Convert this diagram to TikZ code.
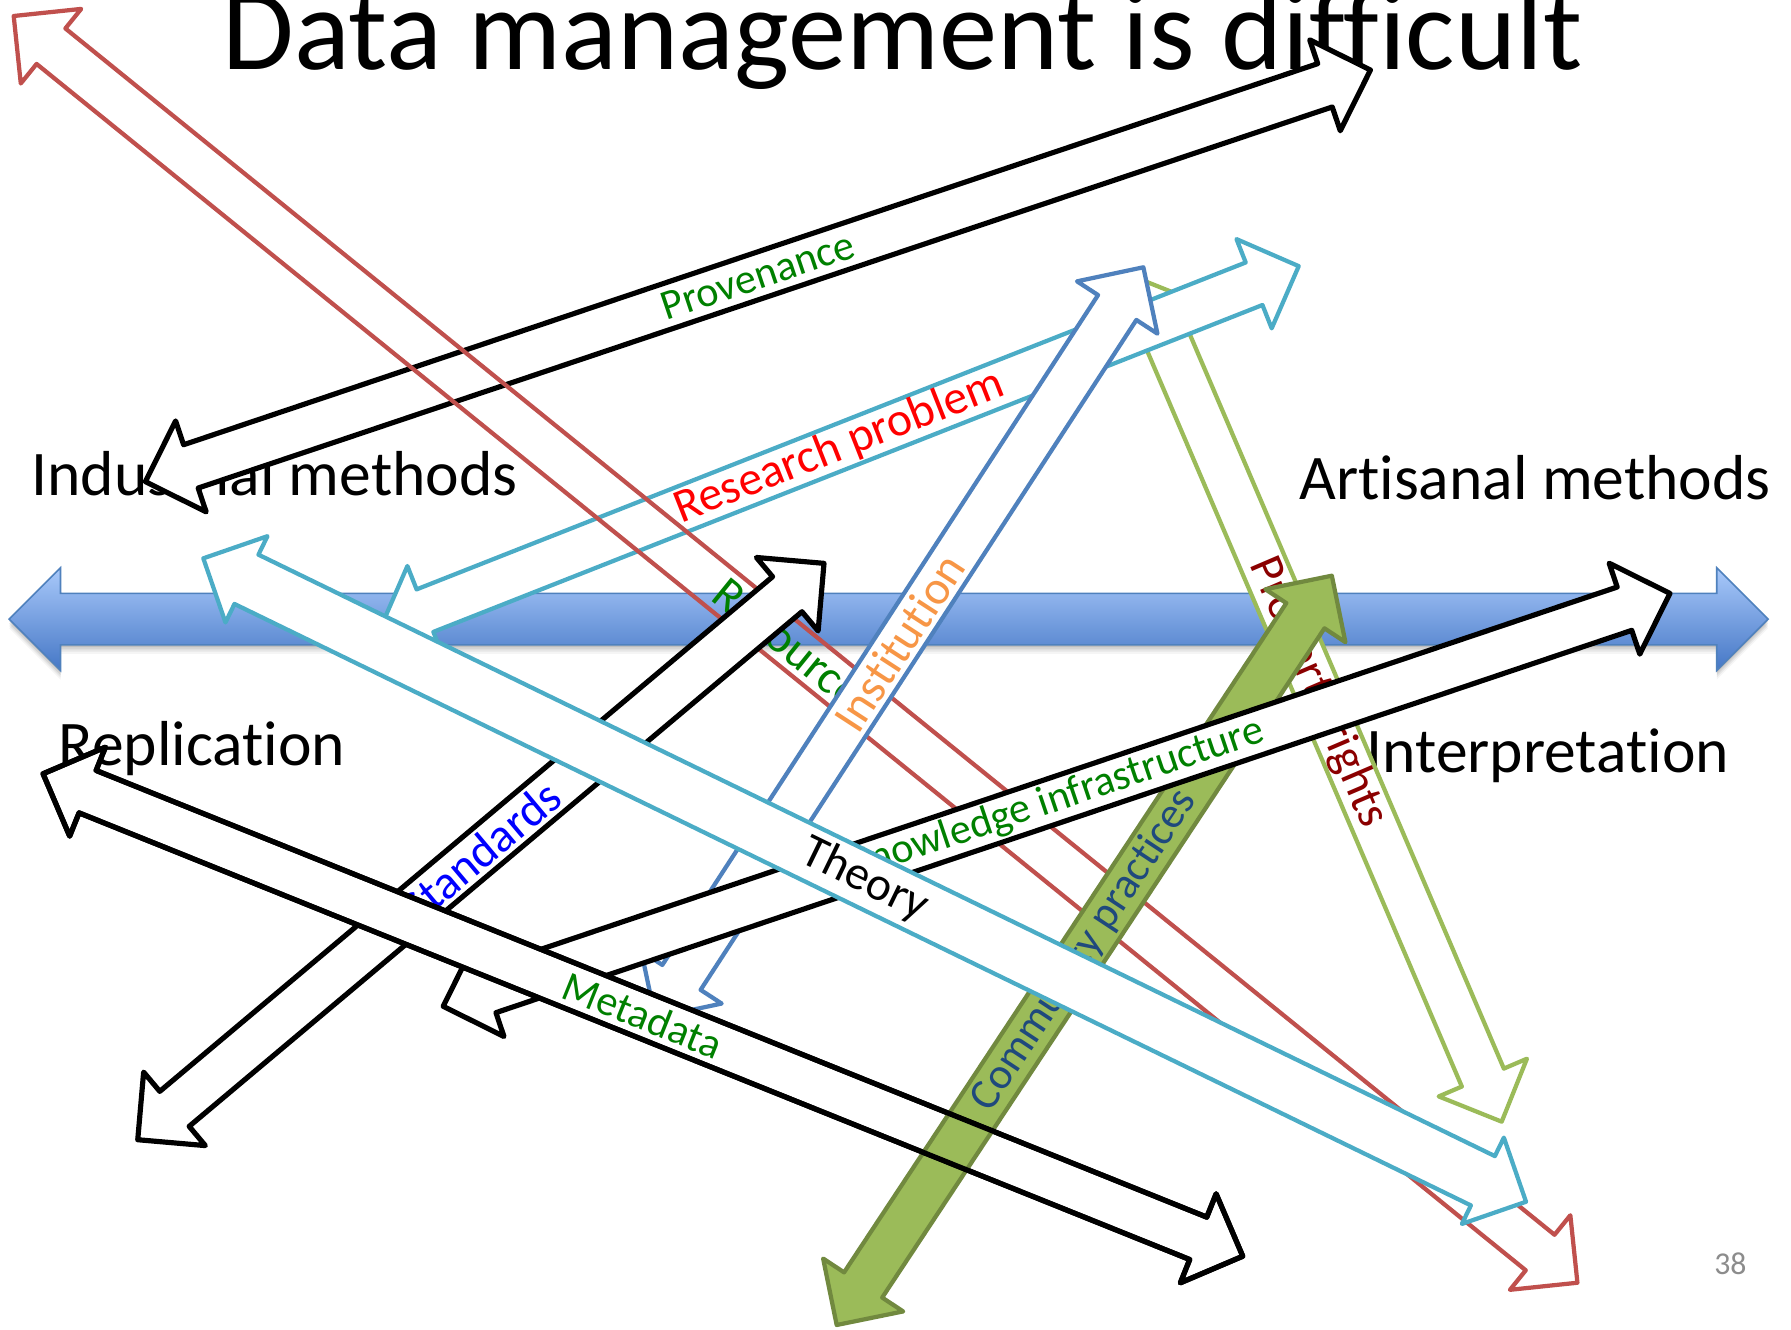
\documentclass[tikz,border=0pt]{standalone}
\usepackage{fontspec}
\setmainfont{Carlito}[Ligatures={NoCommon,NoContextual}, Contextuals=NoAlternate]
\usetikzlibrary{calc}

\definecolor{arrowred}{HTML}{C0504D}
\definecolor{arrowcyan}{HTML}{4BACC6}
\definecolor{arrowblue}{HTML}{4F81BD}
\definecolor{arrowolive}{HTML}{9BBB59}
\definecolor{arrowolivedark}{HTML}{71893F}
\definecolor{bandtop}{HTML}{A9C9FA}
\definecolor{bandbottom}{HTML}{4577C6}
\definecolor{txtgreen}{HTML}{008000}
\definecolor{txtred}{HTML}{FF0000}
\definecolor{txtmaroon}{HTML}{8B0000}
\definecolor{txtorange}{HTML}{F79646}
\definecolor{txtnavy}{HTML}{1F497D}
\definecolor{txtblue}{HTML}{0000FF}
\definecolor{pagenum}{HTML}{8C8C8C}

% double-headed block arrow between two tips
% #1 style, #2 #3 tips, #4 head length, #5 head half-width, #6 shaft half-width
\newcommand{\blockarrow}[6]{%
  \path[#1] (#2)
    -- ($(#2)!#4!(#3)!#5!90:(#3)$)
    -- ($(#2)!#4!(#3)!#6!90:(#3)$)
    -- ($(#3)!#4!(#2)!#6!-90:(#2)$)
    -- ($(#3)!#4!(#2)!#5!-90:(#2)$)
    -- (#3)
    -- ($(#3)!#4!(#2)!#5!90:(#2)$)
    -- ($(#3)!#4!(#2)!#6!90:(#2)$)
    -- ($(#2)!#4!(#3)!#6!-90:(#3)$)
    -- ($(#2)!#4!(#3)!#5!-90:(#3)$)
    -- cycle;}

% common head and shaft sizes
\newcommand{\hl}{18.12pt}
\newcommand{\hh}{18.12pt}
\newcommand{\sw}{8.63pt}
\newcommand{\swwide}{10.35pt}

\tikzset{
  outlined/.style={fill=white, line join=round},
  blackarrow/.style={outlined, draw=black, line width=1.95pt},
  redarrow/.style={draw=arrowred, line width=1.6pt, line join=round},
  cyanarrow/.style={outlined, draw=arrowcyan, line width=1.6pt},
  bluearrow/.style={outlined, draw=arrowblue, line width=1.6pt},
  olivearrow/.style={outlined, draw=arrowolive, line width=1.6pt},
  solidolive/.style={fill=arrowolive, draw=arrowolivedark, line width=1.6pt, line join=round},
  bandstyle/.style={top color=bandtop, bottom color=bandbottom, draw=arrowblue, line width=0.6pt},
  lbl/.style={font=\fontsize{18}{21}\selectfont, inner sep=0pt, sloped, midway},
  smalllbl/.style={lbl, font=\fontsize{16}{19}\selectfont},
  sidelbl/.style={font=\fontsize{24}{29}\selectfont, inner sep=0pt, anchor=base west},
}

\begin{document}
\begin{tikzpicture}[x=0.4314pt, y=-0.4314pt]
\useasboundingbox (0,0) rectangle (1568,1164);
\fill[white] (0,0) rectangle (1568,1164);

% heading
\node[font=\fontsize{44}{52}\selectfont, inner sep=0pt, anchor=base] (title) at (790,61) {Data management is difficult};

% horizontal axis arrow with a soft shadow
\foreach \dy/\op in {2/0.10, 4/0.08, 6/0.06, 8/0.04} {
  \coordinate (shL) at (8,542+\dy);
  \coordinate (shR) at (1548,542+\dy);
  \blockarrow{fill=black, opacity=\op}{shL}{shR}{19.41pt}{19.41pt}{9.71pt}
}
\coordinate (bandL) at (8,542);
\coordinate (bandR) at (1548,542);
\blockarrow{bandstyle}{bandL}{bandR}{19.41pt}{19.41pt}{9.71pt}

% pole labels
\node[sidelbl] (industrial) at (27,434) {Industrial methods};
\node[sidelbl] (artisanal) at (1137,437) {Artisanal methods};
\node[sidelbl] (replication) at (51,670) {Replication};
\node[sidelbl] (interpretation) at (1196,676) {Interpretation};
\node[font=\fontsize{12}{14}\selectfont, text=pagenum, inner sep=0pt] (pagenumber) at (1515,1106) {38};

% tips of the crossing arrows
\coordinate (prA) at (999.5,245);   \coordinate (prB) at (1314.7,982);
\coordinate (pvA) at (127.3,421.7); \coordinate (pvB) at (1199.8,61.3);
\coordinate (rpA) at (333,550);     \coordinate (rpB) at (1137,233);
\coordinate (rsA) at (12,14);       \coordinate (rsB) at (1381,1123);
\coordinate (stA) at (120.6,997.8); \coordinate (stB) at (721.4,493.2);
\coordinate (inA) at (573.7,890.9); \coordinate (inB) at (1001,234);
\coordinate (cpA) at (732.5,1160);  \coordinate (cpB) at (1166,504);
\coordinate (kiA) at (388,881);     \coordinate (kiB) at (1462,519.5);
\coordinate (mdA) at (37.7,677.4);  \coordinate (mdB) at (1088,1099.8);
\coordinate (thA) at (178,488.8);   \coordinate (thB) at (1336,1052.1);

% Property rights
\blockarrow{olivearrow}{prA}{prB}{\hl}{\hh}{\sw}
\path (prA) -- (prB) node[lbl, pos=0.49, text=txtmaroon] (property) {Property rights};

% Provenance
\blockarrow{blackarrow}{pvA}{pvB}{\hl}{\hh}{\sw}
\path (pvA) -- (pvB) node[smalllbl, text=txtgreen] (provenance) {Provenance};

% Research problem
\blockarrow{cyanarrow}{rpA}{rpB}{\hl}{\hh}{\sw}
\path (rpA) -- (rpB) node[lbl, text=txtred] (research) {Research problem};

% Resources (outline only)
\blockarrow{redarrow}{rsA}{rsB}{\hl}{\hh}{\sw}
\path (rsA) -- (rsB) node[lbl, text=txtgreen] (resources) {Resources};

% Standards
\blockarrow{blackarrow}{stA}{stB}{\hl}{\hh}{\sw}
\path (stA) -- (stB) node[lbl, text=txtblue] (standards) {Standards};

% Institution
\blockarrow{bluearrow}{inA}{inB}{\hl}{\hh}{\sw}
\path (inA) -- (inB) node[lbl, text=txtorange] (institution) {Institution};

% Community practices
\blockarrow{solidolive}{cpA}{cpB}{\hl}{\hh}{\sw}
\path (cpA) -- (cpB) node[lbl, font=\fontsize{16.5}{19}\selectfont, text=txtnavy] (community) {Community practices};

% Knowledge infrastructure
\blockarrow{blackarrow}{kiA}{kiB}{\hl}{\hh}{\sw}
\path (kiA) -- (kiB) node[smalllbl, text=txtgreen] (knowledge) {Knowledge infrastructure};

% Metadata
\blockarrow{blackarrow}{mdA}{mdB}{\hl}{\hh}{\sw}
\path (mdA) -- (mdB) node[smalllbl, text=txtgreen] (metadata) {Metadata};

% the green arrow shows through the Metadata shaft, under its outline
\begin{scope}
  \clip ($(mdA)!\hl!(mdB)!\sw!90:(mdB)$) -- ($(mdB)!\hl!(mdA)!\sw!-90:(mdA)$)
     -- ($(mdB)!\hl!(mdA)!\sw!90:(mdA)$) -- ($(mdA)!\hl!(mdB)!\sw!-90:(mdB)$) -- cycle;
  \blockarrow{solidolive}{cpA}{cpB}{\hl}{\hh}{\sw}
\end{scope}
\blockarrow{draw=black, line width=1.95pt, line join=round}{mdA}{mdB}{\hl}{\hh}{\sw}

% Theory
\blockarrow{cyanarrow}{thA}{thB}{\hl}{\hh}{\swwide}
\path (thA) -- (thB) node[lbl, text=black] (theory) {Theory};

\end{tikzpicture}
\end{document}
